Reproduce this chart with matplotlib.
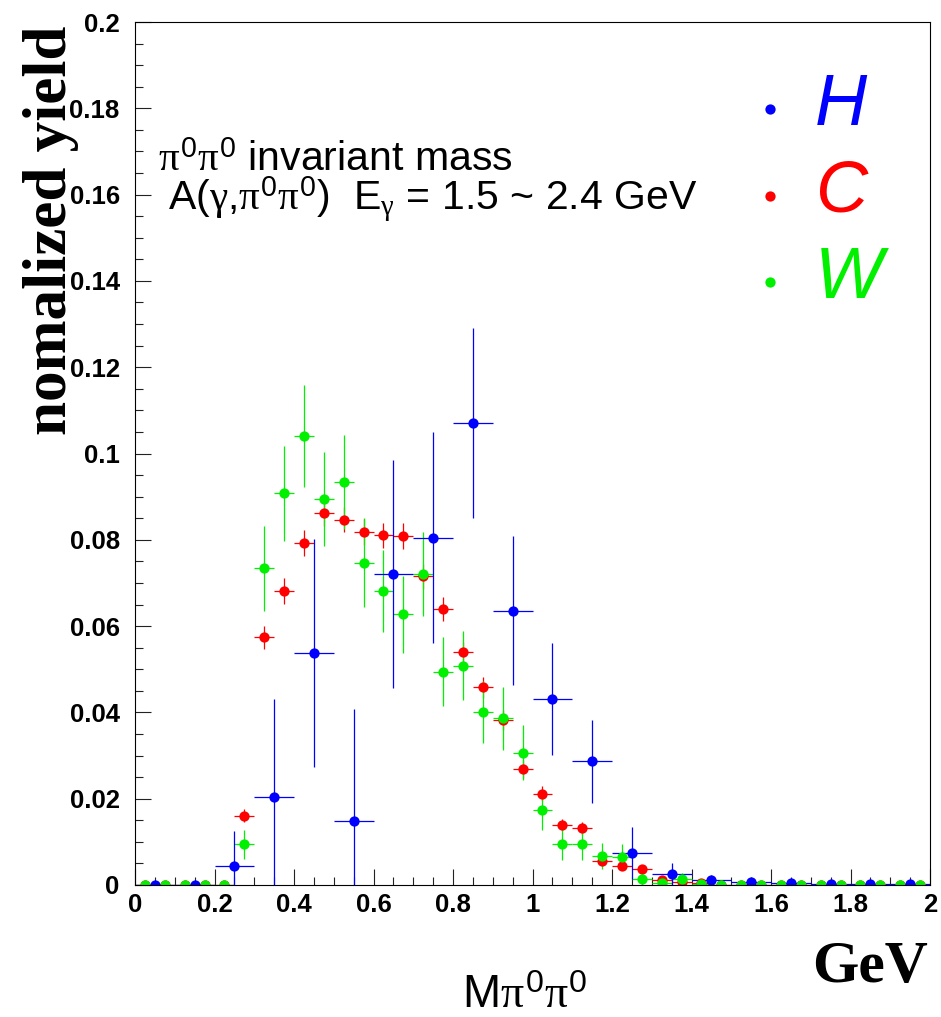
import numpy as np
import matplotlib.pyplot as plt
from matplotlib.ticker import MultipleLocator

# data (normalized yield per bin)
# C and W : 0.05 GeV bins from 0 to 2, H : 0.1 GeV bins
yield_C = [0, 0, 0, 0, 0, 0.0160, 0.0574, 0.0682, 0.0792, 0.0863,
           0.0847, 0.0818, 0.0810, 0.0809, 0.0715, 0.0640, 0.0539, 0.0458, 0.0382, 0.0269,
           0.0212, 0.0138, 0.0131, 0.0056, 0.0045, 0.0037, 0.0012, 0.0006, 0.0005, 0,
           0, 0, 0, 0, 0, 0, 0, 0, 0, 0]
err_C = [0, 0, 0, 0, 0, 0.0015, 0.0027, 0.0030, 0.0030, 0.0030,
         0.0030, 0.0030, 0.0030, 0.0030, 0.0030, 0.0028, 0.0025, 0.0025, 0.0023, 0.0020,
         0.0017, 0.0014, 0.0014, 0.0010, 0.0009, 0.0008, 0.0005, 0.0003, 0.0003, 0,
         0, 0, 0, 0, 0, 0, 0, 0, 0, 0]

yield_W = [0, 0, 0, 0, 0, 0.0094, 0.0734, 0.0908, 0.1041, 0.0895,
           0.0934, 0.0747, 0.0681, 0.0627, 0.0721, 0.0494, 0.0508, 0.0401, 0.0386, 0.0307,
           0.0174, 0.0094, 0.0094, 0.0067, 0.0066, 0.0014, 0.0005, 0.0014, 0.0003, 0,
           0, 0, 0, 0, 0, 0, 0, 0, 0, 0]
err_W = [0, 0, 0, 0, 0, 0.0033, 0.0098, 0.0110, 0.0118, 0.0109,
         0.0110, 0.0103, 0.0095, 0.0090, 0.0097, 0.0080, 0.0080, 0.0072, 0.0073, 0.0063,
         0.0046, 0.0037, 0.0037, 0.0030, 0.0030, 0.0013, 0.0007, 0.0013, 0.0003, 0,
         0, 0, 0, 0, 0, 0, 0, 0, 0, 0]

yield_H = [0, 0, 0.0043, 0.0205, 0.0538, 0.0149, 0.0721, 0.0805, 0.1071, 0.0636,
           0.0431, 0.0287, 0.0075, 0.0025, 0.0012, 0.0008, 0.0004, 0.0003, 0.0003, 0.0003]
err_H = [0, 0, 0.0082, 0.0226, 0.0264, 0.0260, 0.0264, 0.0244, 0.0220, 0.0173,
         0.0130, 0.0096, 0.0060, 0.0027, 0.0012, 0.0008, 0.0005, 0.0004, 0.0004, 0.0004]

xtick_vals = [0, 0.2, 0.4, 0.6, 0.8, 1, 1.2, 1.4, 1.6, 1.8, 2]
xtick_labels = ["0", "0.2", "0.4", "0.6", "0.8", "1", "1.2", "1.4", "1.6", "1.8", "2"]
ytick_vals = [0, 0.02, 0.04, 0.06, 0.08, 0.1, 0.12, 0.14, 0.16, 0.18, 0.2]
ytick_labels = ["0", "0.02", "0.04", "0.06", "0.08", "0.1", "0.12", "0.14", "0.16", "0.18", "0.2"]

plt.rcParams['font.family'] = ['Liberation Sans', 'DejaVu Sans']
plt.rcParams['mathtext.fontset'] = 'custom'
plt.rcParams['mathtext.rm'] = 'Liberation Sans'
plt.rcParams['mathtext.it'] = 'Liberation Serif'
plt.rcParams['mathtext.bf'] = 'Liberation Sans:bold'

W, H = 941, 1017


def px(x, y):
    return x / W, 1 - y / H


fig = plt.figure(figsize=(W / 100, H / 100), dpi=100)
ax = fig.add_axes([135 / W, 1 - 885 / H, 795 / W, 863 / H])

# bin centres
fine_w = 0.05
x_fine = fine_w * np.arange(len(yield_C)) + fine_w / 2
coarse_w = 0.1
x_coarse = coarse_w * np.arange(len(yield_H)) + coarse_w / 2

style = dict(fmt="o", ms=7.4, mew=0, elinewidth=0.9, capsize=0)
ax.errorbar(x_fine, yield_C, xerr=fine_w / 2, yerr=err_C, color="#ff0000", **style)
ax.errorbar(x_fine, yield_W, xerr=fine_w / 2, yerr=err_W, color="#00f000", **style)
ax.errorbar(x_coarse, yield_H, xerr=coarse_w / 2, yerr=err_H, color="#0000ff", **style)

ax.set_xlim(0, 2)
ax.set_ylim(0, 0.2)
ax.set_xticks(xtick_vals)
ax.set_xticklabels(xtick_labels, fontweight="bold", fontsize=18.5)
ax.set_yticks(ytick_vals)
ax.set_yticklabels(ytick_labels, fontweight="bold", fontsize=18.5)
ax.xaxis.set_minor_locator(MultipleLocator(0.05))
ax.yaxis.set_minor_locator(MultipleLocator(0.005))
ax.tick_params(which="major", direction="in", length=11.5, width=0.8, color="#222222")
ax.tick_params(which="minor", direction="in", length=5.8, width=0.8, color="#222222")
ax.tick_params(axis="x", pad=6)
ax.tick_params(axis="y", pad=11)
for s in ax.spines.values():
    s.set_linewidth(0.8)
    s.set_color("black")

# axis titles
fig.text(*px(66, 230), "nomalized yield", family="Liberation Serif", weight="bold",
         fontsize=44, rotation=90, rotation_mode="anchor", ha="center", va="baseline")
fig.text(*px(928, 982), "GeV", family="Liberation Serif", weight="bold",
         fontsize=43, ha="right", va="baseline")
fig.text(*px(462, 1008), r"M$\pi^0\pi^0$", fontsize=33, va="baseline")

# labels
fig.text(*px(158, 171), r"$\pi^0\pi^0$ invariant mass", fontsize=29.5, va="baseline")
fig.text(*px(168, 210), r"A($\gamma$,$\pi^0\pi^0$)  E$_\gamma$ = 1.5 ~ 2.4 GeV",
         fontsize=29.5, va="baseline")

# legend
legend_names = ["H", "C", "W"]
legend_cols = ["#0000ff", "#ff0000", "#00f000"]
for i, (name, col) in enumerate(zip(legend_names, legend_cols)):
    ym = 109 + 86.5 * i
    ax.plot(*px(770, ym), "o", color=col, ms=7.4, mew=0,
            transform=fig.transFigure, clip_on=False)
    fig.text(*px(815, ym + 16), name, color=col, fontsize=52, style="italic",
             va="baseline")

fig.savefig("out.png", dpi=100)
